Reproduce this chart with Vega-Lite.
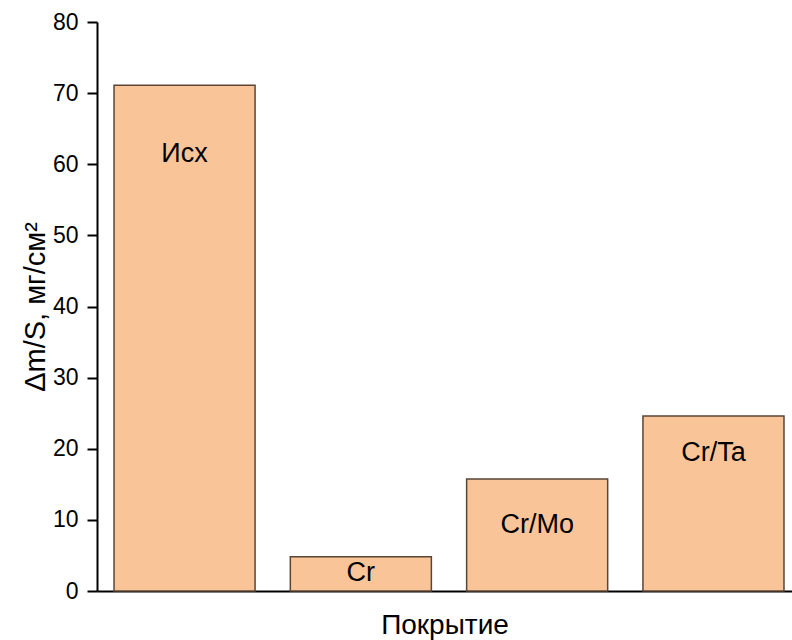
{
  "$schema": "https://vega.github.io/schema/vega-lite/v6.json",
  "width": 695,
  "height": 569,
  "autosize": "none",
  "padding": {"left": 97, "top": 22, "right": 0, "bottom": 49},
  "background": "white",
  "config": {
    "view": {"stroke": null},
    "font": "Liberation Sans"
  },
  "data": {
    "values": [
      {"coating": "Исх", "value": 71.1, "labelY": 61.4},
      {"coating": "Cr", "value": 4.8, "labelY": 2.5},
      {"coating": "Cr/Mo", "value": 15.75, "labelY": 9.3},
      {"coating": "Cr/Ta", "value": 24.6, "labelY": 19.4}
    ]
  },
  "encoding": {
    "x": {
      "field": "coating",
      "type": "nominal",
      "sort": null,
      "scale": {"paddingInner": 0.2, "paddingOuter": 0.071, "align": 0.68},
      "axis": {
        "title": "Покрытие",
        "titleFontSize": 28,
        "titleFontWeight": "normal",
        "titleColor": "black",
        "titlePadding": 20,
        "labels": false,
        "ticks": false,
        "domainColor": "black",
        "domainWidth": 2
      }
    }
  },
  "layer": [
    {
      "mark": {"type": "bar", "fill": "#F9C598", "stroke": "#5b4636", "strokeWidth": 1.5},
      "encoding": {
        "y": {
          "field": "value",
          "type": "quantitative",
          "scale": {"domain": [0, 80], "nice": false},
          "axis": {
            "title": "Δm/S, мг/см²",
            "titleFontSize": 29,
            "titleFontWeight": "normal",
            "titleColor": "black",
            "titlePadding": 2,
            "values": [0, 5, 10, 15, 20, 25, 30, 35, 40, 45, 50, 55, 60, 65, 70, 75, 80],
            "labelExpr": "datum.value % 10 === 0 ? datum.label : ''",
            "labelFontSize": 23,
            "labelColor": "black",
            "labelPadding": 9,
            "tickSize": {"condition": {"test": "datum.value % 10 === 0", "value": 10}, "value": 5},
            "tickColor": "black",
            "tickWidth": 2,
            "domainColor": "black",
            "domainWidth": 2,
            "grid": false
          }
        }
      }
    },
    {
      "mark": {"type": "text", "fontSize": 27, "color": "black", "baseline": "middle"},
      "encoding": {
        "y": {"field": "labelY", "type": "quantitative"},
        "text": {"field": "coating"}
      }
    }
  ]
}
